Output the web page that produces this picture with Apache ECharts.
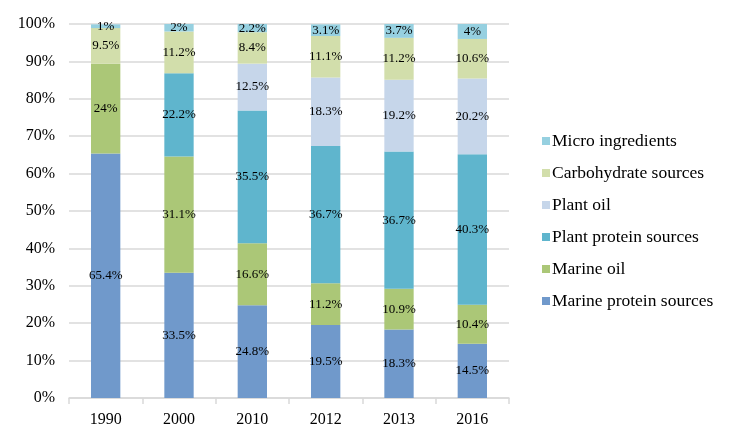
<!DOCTYPE html>
<html>
<head>
<meta charset="utf-8">
<script src="https://cdn.jsdelivr.net/npm/echarts@6/dist/echarts.min.js"></script>
<style>html,body{margin:0;padding:0;background:#fff}#c{width:735px;height:441px}</style>
</head>
<body>
<div id="c"></div>
<script>
const categories = ['1990', '2000', '2010', '2012', '2013', '2016'];
const marineProtein = [65.4, 33.5, 24.8, 19.5, 18.3, 14.5];
const marineOil = [24, 31.1, 16.6, 11.2, 10.9, 10.4];
const plantProtein = [0, 22.2, 35.5, 36.7, 36.7, 40.3];
const plantOil = [0, 0, 12.5, 18.3, 19.2, 20.2];
const carbohydrate = [9.5, 11.2, 8.4, 11.1, 11.2, 10.6];
const micro = [1, 2, 2.2, 3.1, 3.7, 4];
const yTicks = [0, 10, 20, 30, 40, 50, 60, 70, 80, 90, 100];

const font = '"Liberation Serif", "Times New Roman", serif';
const seriesDefs = [
  ['Marine protein sources', marineProtein, '#7099cb'],
  ['Marine oil', marineOil, '#abc777'],
  ['Plant protein sources', plantProtein, '#5fb5cd'],
  ['Plant oil', plantOil, '#c6d6ea'],
  ['Carbohydrate sources', carbohydrate, '#d2deab'],
  ['Micro ingredients', micro, '#96d0e0']
];

const chart = echarts.init(document.getElementById('c'));
chart.setOption({
  animation: false,
  textStyle: { fontFamily: font },
  grid: { left: 69, right: 226, top: 24, bottom: 43 },
  legend: {
    orient: 'vertical',
    left: 537, top: 127,
    itemWidth: 8, itemHeight: 8, itemGap: 14,
    icon: 'rect',
    data: seriesDefs.map(s => s[0]).reverse(),
    textStyle: { fontFamily: font, fontSize: 17.5, lineHeight: 18, color: '#000', padding: [0, 0, 0, -3] }
  },
  xAxis: {
    type: 'category',
    data: categories,
    axisLine: { lineStyle: { color: '#d9d9d9', width: 1.5 } },
    axisTick: { show: true, length: 6, lineStyle: { color: '#d9d9d9', width: 1.5 } },
    axisLabel: { fontFamily: font, fontSize: 16, color: '#000', margin: 14 }
  },
  yAxis: {
    type: 'value',
    min: 0, max: 100, interval: 10,
    axisLine: { show: false },
    axisTick: { show: false },
    splitLine: { lineStyle: { color: '#d9d9d9', width: 1.5 } },
    axisLabel: {
      fontFamily: font, fontSize: 16, color: '#000', margin: 14,
      formatter: v => yTicks.includes(v) ? v + '%' : ''
    }
  },
  series: seriesDefs.map(([name, data, color]) => ({
    name, type: 'bar', stack: 'total',
    data: data.map(v => v === 0 ? null : v),
    barWidth: '40%',
    itemStyle: { color },
    label: {
      show: true, position: 'inside',
      fontFamily: font, fontSize: 13, color: '#000',
      formatter: p => p.value + '%'
    }
  }))
});
</script>
</body>
</html>
